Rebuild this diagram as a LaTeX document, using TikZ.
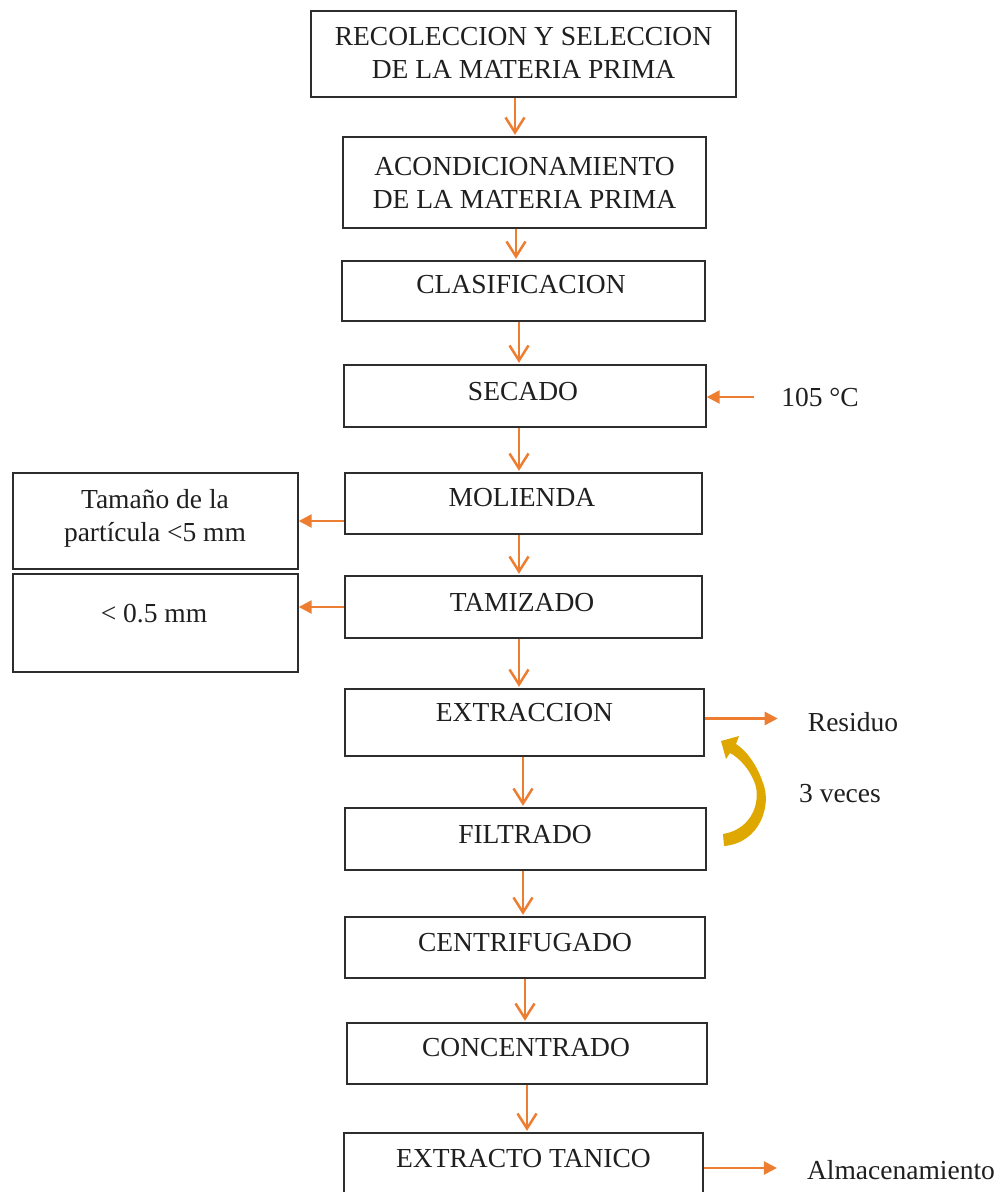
\documentclass[tikz,border=0pt]{standalone}
\usepackage{fontspec}
\setmainfont{Liberation Serif}
\usetikzlibrary{arrows.meta}
\definecolor{arrorange}{RGB}{237,125,49}
\definecolor{loopgold}{RGB}{222,168,0}
\definecolor{boxline}{RGB}{45,45,45}
\begin{document}
\begin{tikzpicture}[x=1pt,y=-1pt,
  box/.style={draw=boxline, line width=1.4pt, rectangle, inner sep=0pt},
  txt/.style={font=\fontsize{27.5}{33}\selectfont, align=center, text=black!88, inner sep=0pt},
  down/.style={draw=arrorange, line width=2.5pt, shorten >=1.5pt,
    -{Straight Barb[length=15pt,width=19pt,line width=2.5pt]}},
  side/.style={draw=arrorange, line width=2.5pt, -{Triangle[length=13pt,width=13pt]}},
]
\useasboundingbox (0,0) rectangle (997,1192);

% main boxes
\node[box, minimum width=425pt, minimum height=86pt] (b1) at (523.5,54) {};
\node[txt] (b1t) at (523.5,53) {RECOLECCION Y SELECCION\\DE LA MATERIA PRIMA};
\node[box, minimum width=363pt, minimum height=91pt] (b2) at (524.5,182.5) {};
\node[txt] (b2t) at (524.5,182.5) {ACONDICIONAMIENTO\\DE LA MATERIA PRIMA};
\node[box, minimum width=363pt, minimum height=60pt] (b3) at (523.5,291) {};
\node[txt] (b3t) at (521,285) {CLASIFICACION};
\node[box, minimum width=362pt, minimum height=62pt] (b4) at (525,396) {};
\node[txt] (b4t) at (523,392) {SECADO};
\node[box, minimum width=357pt, minimum height=61pt] (b5) at (523.5,503.5) {};
\node[txt] (b5t) at (522,498) {MOLIENDA};
\node[box, minimum width=357pt, minimum height=62pt] (b6) at (523.5,607) {};
\node[txt] (b6t) at (522,603) {TAMIZADO};
\node[box, minimum width=359pt, minimum height=67pt] (b7) at (524.5,722.5) {};
\node[txt] (b7t) at (524.5,713) {EXTRACCION};
\node[box, minimum width=361pt, minimum height=62pt] (b8) at (525.5,839) {};
\node[txt] (b8t) at (525,835) {FILTRADO};
\node[box, minimum width=360pt, minimum height=61pt] (b9) at (525,947.5) {};
\node[txt] (b9t) at (525,943) {CENTRIFUGADO};
\node[box, minimum width=360pt, minimum height=61pt] (b10) at (527,1053.5) {};
\node[txt] (b10t) at (526,1048) {CONCENTRADO};
\node[box, minimum width=359pt, minimum height=82pt] (b11) at (523.5,1174) {};
\node[txt] (b11t) at (523.5,1159) {EXTRACTO TANICO};

% left boxes
\node[box, minimum width=285pt, minimum height=96pt] (l1) at (155.5,521) {};
\node[txt] (l1t) at (155,518) {Tamaño de la\\partícula <5 mm};
\node[box, minimum width=285pt, minimum height=98pt] (l2) at (155.5,623) {};
\node[txt] (l2t) at (154,614) {< 0.5 mm};

% side labels
\node[txt] (t105) at (820,397) {105 °C};
\node[txt] (resid) at (853,722) {Residuo};
\node[txt] (veces) at (840,794) {3 veces};
\node[txt] (alm) at (901,1170) {Almacenamiento};

% vertical flow arrows
\draw[down] ([xshift=-8.5pt]b1.south) -- ([xshift=-9.5pt]b2.north);
\draw[down] ([xshift=-8.5pt]b2.south) -- ([xshift=-7.5pt]b3.north);
\draw[down] ([xshift=-4.5pt]b3.south) -- ([xshift=-6pt]b4.north);
\draw[down] ([xshift=-6pt]b4.south) -- ([xshift=-4.5pt]b5.north);
\draw[down] ([xshift=-4.5pt]b5.south) -- ([xshift=-4.5pt]b6.north);
\draw[down] ([xshift=-4.5pt]b6.south) -- ([xshift=-5.5pt]b7.north);
\draw[down] ([xshift=-1.5pt]b7.south) -- ([xshift=-2.5pt]b8.north);
\draw[down] ([xshift=-2.5pt]b8.south) -- ([xshift=-2pt]b9.north);
\draw[down] (b9.south) -- ([xshift=-2pt]b10.north);
\draw[down] (b10.south) -- ([xshift=3.5pt]b11.north);

% side arrows
\draw[side] ([xshift=-27pt]t105.west) -- (t105.west -| b4.east);
\draw[side] (b5.west |- l1.east) -- (l1.east);
\draw[side] (b6.west) -- (b6.west -| l2.east);
\draw[side, shorten >=30pt] ([yshift=4pt]b7.east) -- ([yshift=4pt]b7.east -| resid.west);
\draw[side, shorten >=30pt] ([yshift=6pt]b11.east) -- ([yshift=6pt]b11.east -| alm.west);

% curved repeat arrow
\fill[loopgold] (724,846) .. controls (760,843) and (772,805) .. (763,783)
  .. controls (757,765) and (746,750) .. (736,744) -- (739,736) -- (721,741) -- (726,759) -- (730,753)
  .. controls (740,758) and (752,772) .. (756,787)
  .. controls (760,808) and (748,830) .. (723,834) -- cycle;
\end{tikzpicture}
\end{document}
